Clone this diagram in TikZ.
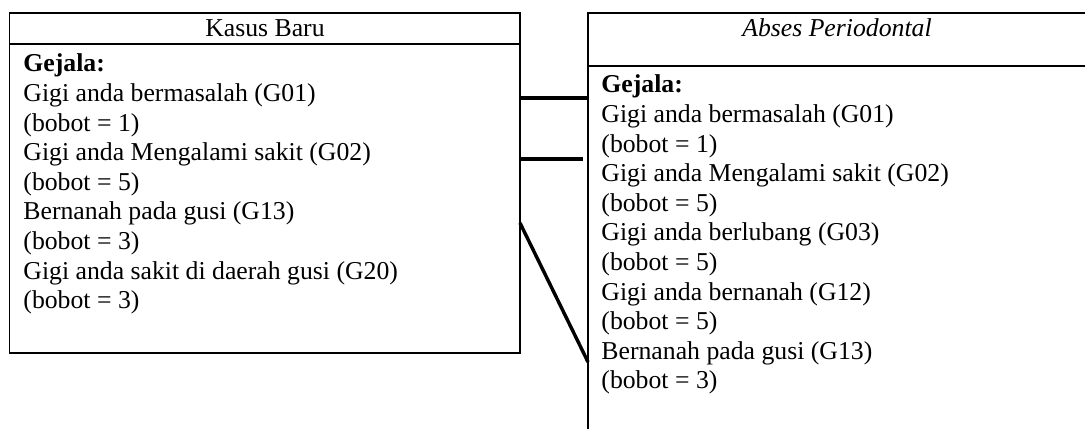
\documentclass[tikz,border=0pt]{standalone}
\usepackage{fontspec}
\setmainfont{Liberation Serif}
\usepackage{tikz}
\usetikzlibrary{positioning}
\tikzset{
  kotak/.style={line width=0.7pt},
  hubung/.style={line width=1.6pt},
  baris/.style={anchor=base west, inner sep=0pt, font=\fontsize{12}{13.8}\selectfont},
  judul/.style={anchor=base, inner sep=0pt, font=\fontsize{12}{13.8}\selectfont},
}

\begin{document}
\begin{tikzpicture}[x=0.4662pt, y=-0.4662pt]
\useasboundingbox (0,0) rectangle (1085,429);
% kasus baru
\draw[kotak] (9.5,13) rectangle (520,353);
\draw[kotak] (9.5,44) -- (520,44);
\node[judul] (KB) at (265,37) {Kasus Baru};
\node[baris] (L0) at (23,72) {\textbf{Gejala:}};
\node[baris] (L1) at (23,101.6) {Gigi anda bermasalah (G01)};
\node[baris] (L2) at (23,131.2) {(bobot = 1)};
\node[baris] (L3) at (23,160.8) {Gigi anda Mengalami sakit (G02)};
\node[baris] (L4) at (23,190.4) {(bobot = 5)};
\node[baris] (L5) at (23,220) {Bernanah pada gusi (G13)};
\node[baris] (L6) at (23,249.6) {(bobot = 3)};
\node[baris] (L7) at (23,279.2) {Gigi anda sakit di daerah gusi (G20)};
\node[baris] (L8) at (23,308.8) {(bobot = 3)};
% abses periodontal
\draw[kotak] (1095,13) -- (588,13) -- (588,440);
\draw[kotak] (588,66) -- (1095,66);
\node[judul] (AP) at (837,37) {\itshape Abses Periodontal};
\node[baris] (R0) at (601,93) {\textbf{Gejala:}};
\node[baris] (R1) at (601,122.6) {Gigi anda bermasalah (G01)};
\node[baris] (R2) at (601,152.2) {(bobot = 1)};
\node[baris] (R3) at (601,181.8) {Gigi anda Mengalami sakit (G02)};
\node[baris] (R4) at (601,211.4) {(bobot = 5)};
\node[baris] (R5) at (601,241) {Gigi anda berlubang (G03)};
\node[baris] (R6) at (601,270.6) {(bobot = 5)};
\node[baris] (R7) at (601,300.2) {Gigi anda bernanah (G12)};
\node[baris] (R8) at (601,329.8) {(bobot = 5)};
\node[baris] (R9) at (601,359.4) {Bernanah pada gusi (G13)};
\node[baris] (R10) at (601,389) {(bobot = 3)};
% penghubung
\coordinate (a1) at (520,98);
\coordinate (b1) at (588,98);
\coordinate (a2) at (520,159);
\coordinate (b2) at (583,159);
\coordinate (a3) at (520,223);
\coordinate (b3) at (588,362);
\path[hubung]
(a1) edge (b1)
(a2) edge (b2)
(a3) edge (b3);
\end{tikzpicture}
\end{document}
